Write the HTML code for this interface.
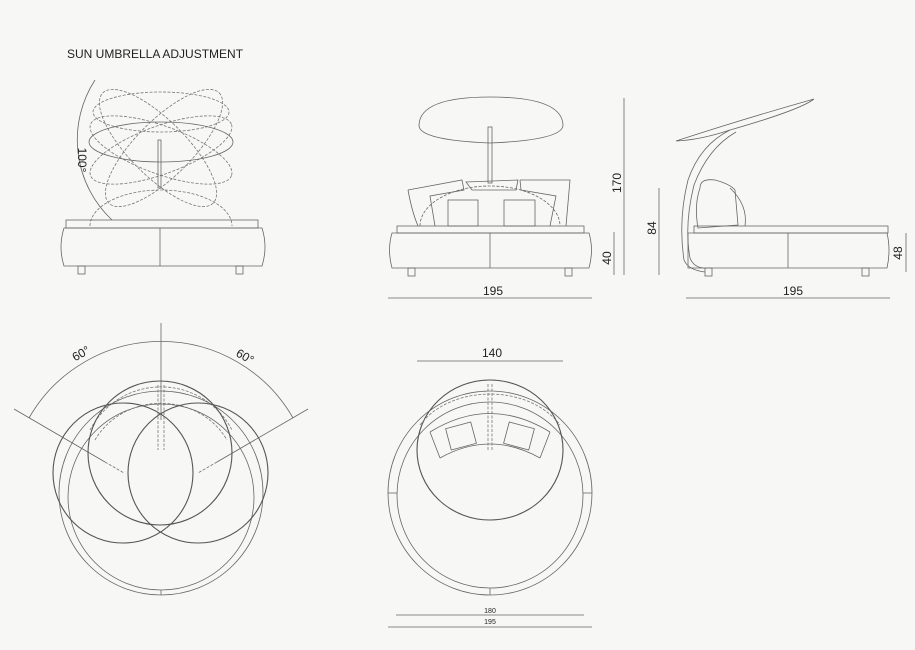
<!DOCTYPE html>
<html><head><meta charset="utf-8"><style>
html,body{margin:0;padding:0;background:#f7f7f6;}
svg{display:block}
text{font-family:"Liberation Sans",sans-serif;fill:#222}
</style></head><body>
<svg width="915" height="650" viewBox="0 0 915 650" xmlns="http://www.w3.org/2000/svg">
<rect width="915" height="650" fill="#f7f7f6"/>
<text x="67" y="58" font-size="12">SUN UMBRELLA ADJUSTMENT</text>

<g fill="none" stroke="#666" stroke-width="0.8">
<!-- ===== Top-left elevation ===== -->
<path d="M95,80 A110,110 0 0 0 112,220"/>
<g stroke-dasharray="3,1.5" stroke="#777">
<ellipse cx="161" cy="112" rx="68" ry="20"/>
<ellipse cx="158" cy="148" rx="78" ry="28" transform="rotate(45 158 148)"/>
<ellipse cx="164" cy="148" rx="78" ry="28" transform="rotate(-45 164 148)"/>
<ellipse cx="161" cy="150" rx="75" ry="24" transform="rotate(20 161 150)"/>
<ellipse cx="161" cy="150" rx="75" ry="24" transform="rotate(-20 161 150)"/>
<path d="M90,226 A71,36 0 0 1 232,226"/>
</g>
<ellipse cx="161" cy="142" rx="72" ry="20"/>
<rect x="158" y="140" width="3" height="48"/>
<rect x="66" y="220" width="192" height="8"/>
<path d="M64,228 L262,228 Q268,247 262,266 L64,266 Q58,247 64,228Z"/>
<line x1="160" y1="228" x2="160" y2="266"/>
<rect x="78" y="266" width="7" height="8"/><rect x="236" y="266" width="7" height="8"/>

<!-- ===== Front elevation ===== -->
<path d="M419,125 Q420,97 490,97 Q562,97 563,125 Q563,140 490,143 Q418,140 419,125Z"/>
<rect x="488" y="127" width="4" height="56"/>
<path d="M408,190 L462,180 L464,190 L430,196 L435,226"/>
<path d="M408,190 Q412,212 418,226"/>
<path d="M466,182 L518,180 L516,190 L472,190Z"/>
<path d="M520,180 L570,180 L566,226"/>
<path d="M520,180 L521,190 L556,196 L550,226"/>
<path d="M420,226 A70,40 0 0 1 560,226" stroke-dasharray="3,1.5"/>
<rect x="448" y="200" width="30" height="26"/><rect x="504" y="200" width="31" height="26"/>
<rect x="397" y="226" width="187" height="7"/>
<path d="M392,233 L589,233 Q594,250 589,268 L392,268 Q387,250 392,233Z"/>
<line x1="490" y1="233" x2="490" y2="268"/>
<rect x="408" y="268" width="7" height="8"/><rect x="565" y="268" width="7" height="8"/>
<line x1="624" y1="98" x2="624" y2="275"/>
<line x1="614" y1="232" x2="614" y2="275"/>
<line x1="388" y1="298" x2="592" y2="298"/>

<!-- ===== Side elevation ===== -->
<path d="M676,141 Q740,120 814,99 Q800,110 730,130 Q700,140 676,141Z"/>
<path d="M730,130 Q700,145 688,180 Q678,220 684,260 Q688,270 705,272"/>
<path d="M736,132 Q708,148 694,185 Q684,225 690,258 Q694,268 705,268"/>
<path d="M700,188 Q700,178 715,180 Q730,184 735,190 L738,225 L698,228 Q694,205 700,188Z"/>
<path d="M730,188 Q748,205 745,226"/>
<rect x="694" y="226" width="194" height="7"/>
<path d="M688,233 L887,233 Q891,250 887,268 L688,268Z"/>
<line x1="788" y1="233" x2="788" y2="268"/>
<rect x="705" y="268" width="7" height="8"/><rect x="862" y="268" width="7" height="8"/>
<line x1="659" y1="188" x2="659" y2="275"/>
<line x1="906" y1="233" x2="906" y2="272"/>
<line x1="686" y1="298" x2="890" y2="298"/>

<!-- ===== Top view left ===== -->
<line x1="161" y1="323" x2="161" y2="420"/>
<path d="M29,418 A152,152 0 0 1 293,418"/>
<line x1="14" y1="409" x2="105" y2="462"/>
<line x1="308" y1="409" x2="217" y2="462"/>
<g stroke-dasharray="3,1.5" stroke="#777">
<path d="M105,462 L124,473 M217,462 L198,473"/>
<path d="M158,385 L158,450 M164,385 L164,450"/>
<path d="M90,430 A80,80 0 0 1 232,430"/>
<path d="M95,440 A75,70 0 0 1 227,440"/>
</g>
<circle cx="161" cy="493" r="102"/>
<circle cx="161" cy="497" r="93"/>
<line x1="161" y1="590" x2="161" y2="595"/>
<g stroke="#555" stroke-width="1.1">
<circle cx="160" cy="453" r="72"/>
<circle cx="123" cy="473" r="70"/>
<circle cx="198" cy="473" r="70"/>
</g>

<!-- ===== Top view right ===== -->
<line x1="417" y1="361" x2="563" y2="361"/>
<circle cx="490" cy="493" r="102"/>
<circle cx="490" cy="495" r="93"/>
<line x1="388" y1="493" x2="397" y2="493"/><line x1="583" y1="493" x2="592" y2="493"/>
<line x1="490" y1="588" x2="490" y2="595"/>
<ellipse cx="490" cy="450" rx="73" ry="70" stroke="#555" stroke-width="1.1"/>
<g stroke-dasharray="3,1.5" stroke="#777">
<path d="M488,384 L488,450 M492,384 L492,450"/>
<path d="M420,425 A80,60 0 0 1 560,425"/>
</g>
<path d="M430,432 Q490,395 550,432 M440,458 Q490,430 540,458"/>
<path d="M430,432 L440,458 M550,432 L540,458"/>
<rect x="448" y="425" width="26" height="22" transform="rotate(-15 461 436)"/>
<rect x="506" y="425" width="26" height="22" transform="rotate(15 519 436)"/>
<line x1="396" y1="615" x2="584" y2="615"/>
<line x1="388" y1="627" x2="592" y2="627"/>
</g>

<!-- labels -->
<text x="78" y="160" font-size="12" transform="rotate(90 78 160)" text-anchor="middle">100°</text>
<text x="493" y="295" font-size="12" text-anchor="middle">195</text>
<text x="793" y="295" font-size="12" text-anchor="middle">195</text>
<text x="621" y="183" font-size="12" transform="rotate(-90 621 183)" text-anchor="middle">170</text>
<text x="611" y="258" font-size="12" transform="rotate(-90 611 258)" text-anchor="middle">40</text>
<text x="656" y="228" font-size="12" transform="rotate(-90 656 228)" text-anchor="middle">84</text>
<text x="902" y="253" font-size="12" transform="rotate(-90 902 253)" text-anchor="middle">48</text>
<text x="83" y="357" font-size="12" transform="rotate(-30 83 357)" text-anchor="middle">60°</text>
<text x="243" y="360" font-size="12" transform="rotate(30 243 360)" text-anchor="middle">60°</text>
<text x="492" y="357" font-size="12" text-anchor="middle">140</text>
<text x="490" y="613" font-size="7" text-anchor="middle">180</text>
<text x="490" y="624" font-size="7" text-anchor="middle">195</text>
</svg>
</body></html>
